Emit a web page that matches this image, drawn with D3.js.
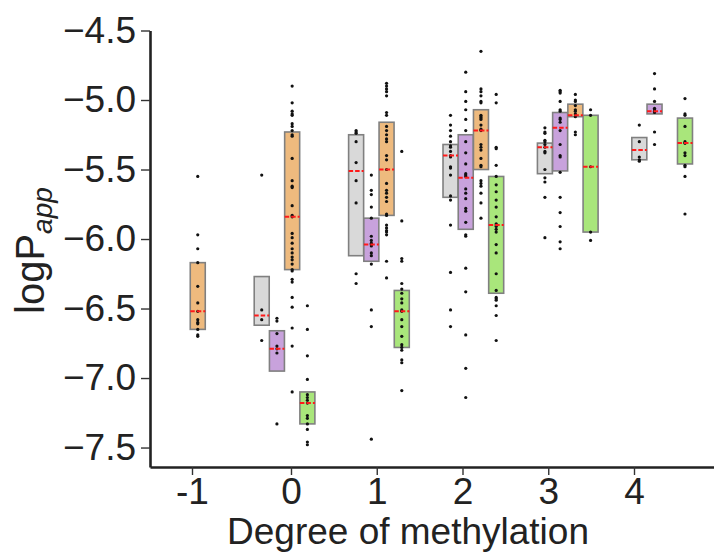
<!DOCTYPE html>
<html>
<head>
<meta charset="utf-8">
<script src="https://cdn.jsdelivr.net/npm/d3@7"></script>
<style>
  html, body { margin: 0; padding: 0; background: #fff; }
  svg { display: block; font-family: "Liberation Sans", Arial, sans-serif; }
</style>
</head>
<body>
<svg id="chart" width="714" height="555"></svg>
<script>
// ---------- data ----------
const categories = [-1, 0, 1, 2, 3, 4];
const seriesKeys = ["grey", "purple", "orange", "green"];
const seriesColors = ["#d9d9d9", "#c8a2dc", "#eeba7e", "#a9e67b"];
const yTicks = [-4.5, -5.0, -5.5, -6.0, -6.5, -7.0, -7.5];
const xTicks = [-1, 0, 1, 2, 3, 4];

// box statistics per category: [q1, median, q3] (null = no box)
const greyBoxes = [null, [-6.62, -6.55, -6.27], [-6.12, -5.51, -5.25], [-5.70, -5.40, -5.32], [-5.53, -5.34, -5.31], [-5.43, -5.36, -5.27]];
const purpleBoxes = [null, [-6.95, -6.79, -6.66], [-6.16, -6.04, -5.85], [-5.93, -5.56, -5.25], [-5.51, -5.20, -5.09], [-5.10, -5.08, -5.03]];
const orangeBoxes = [[-6.65, -6.52, -6.17], [-6.22, -5.84, -5.23], [-5.83, -5.50, -5.16], [-5.50, -5.22, -5.07], [-5.12, -5.11, -5.03], null];
const greenBoxes = [null, [-7.33, -7.18, -7.10], [-6.78, -6.52, -6.37], [-6.39, -5.90, -5.55], [-5.95, -5.48, -5.11], [-5.46, -5.31, -5.13]];

// individual measurements per category
const greyPoints = [
  [],
  [-5.54, -6.51, -6.58, -6.73],
  [-5.22, -5.23, -5.24, -5.30, -5.45, -5.58, -5.74, -6.25, -6.32],
  [-5.11, -5.18, -5.22, -5.26, -5.30, -5.33, -5.34, -5.37, -5.40, -5.41, -5.48, -5.49, -5.54, -5.69, -5.72, -5.90, -6.24, -6.51, -6.63],
  [-5.20, -5.23, -5.24, -5.29, -5.30, -5.32, -5.34, -5.37, -5.38, -5.50, -5.56, -5.59, -5.70, -5.99],
  [-5.18, -5.30, -5.41, -5.43, -5.44]
];
const purplePoints = [
  [],
  [-6.57, -6.59, -6.68, -6.77, -6.79, -6.82, -7.33],
  [-5.54, -5.65, -5.68, -5.77, -5.85, -5.98, -6.01, -6.03, -6.04, -6.05, -6.10, -6.12, -6.18, -6.51, -6.63, -7.44],
  [-4.80, -4.94, -5.01, -5.07, -5.14, -5.22, -5.30, -5.38, -5.46, -5.53, -5.54, -5.55, -5.64, -5.67, -5.71, -5.78, -5.80, -5.88, -5.97, -5.98, -6.21, -6.38, -6.69, -6.93, -7.14],
  [-4.93, -4.94, -4.95, -5.01, -5.07, -5.08, -5.13, -5.14, -5.16, -5.22, -5.32, -5.40, -5.41, -5.52, -5.70, -5.81, -5.91, -6.02, -6.07],
  [-4.81, -4.92, -5.01, -5.06, -5.07, -5.08, -5.09, -5.23, -5.32]
];
const orangePoints = [
  [-5.55, -5.97, -6.07, -6.17, -6.34, -6.46, -6.52, -6.58, -6.60, -6.61, -6.65, -6.69, -6.70],
  [-4.90, -5.02, -5.08, -5.10, -5.11, -5.17, -5.19, -5.22, -5.25, -5.26, -5.42, -5.58, -5.62, -5.63, -5.76, -5.83, -5.84, -5.96, -5.99, -6.03, -6.07, -6.10, -6.13, -6.15, -6.18, -6.22, -6.23, -6.29, -6.31, -6.42, -6.49, -6.64, -6.77, -7.10],
  [-4.88, -4.90, -4.92, -4.94, -4.97, -5.09, -5.11, -5.19, -5.22, -5.25, -5.28, -5.30, -5.40, -5.43, -5.50, -5.60, -5.65, -5.67, -5.70, -5.73, -5.82, -5.83, -5.90, -5.92, -5.94, -5.95, -5.97, -6.16, -6.28],
  [-4.65, -4.92, -4.94, -4.97, -5.01, -5.02, -5.11, -5.12, -5.13, -5.14, -5.18, -5.21, -5.22, -5.32, -5.34, -5.36, -5.42, -5.47, -5.48, -5.58, -5.60, -5.62, -5.67, -5.74, -5.85],
  [-4.96, -5.00, -5.01, -5.04, -5.07, -5.08, -5.10, -5.12, -5.23, -5.25],
  []
];
const greenPoints = [
  [],
  [-6.48, -6.65, -6.84, -7.01, -7.12, -7.14, -7.16, -7.18, -7.27, -7.29, -7.33, -7.37, -7.46, -7.48],
  [-5.37, -5.87, -6.14, -6.16, -6.32, -6.36, -6.39, -6.43, -6.46, -6.51, -6.52, -6.58, -6.63, -6.70, -6.76, -6.78, -6.80, -6.87, -6.89, -7.09],
  [-4.96, -5.02, -5.34, -5.35, -5.47, -5.55, -5.61, -5.66, -5.72, -5.77, -5.84, -5.89, -5.90, -5.91, -5.93, -5.95, -6.04, -6.10, -6.25, -6.37, -6.42, -6.43, -6.44, -6.48, -6.55, -6.73],
  [-5.07, -5.11, -5.48, -5.95, -6.01],
  [-4.99, -5.10, -5.11, -5.19, -5.30, -5.31, -5.31, -5.38, -5.40, -5.47, -5.48, -5.55, -5.82]
];

const boxSets = [greyBoxes, purpleBoxes, orangeBoxes, greenBoxes];
const pointSets = [greyPoints, purplePoints, orangePoints, greenPoints];

// ---------- layout ----------
const svg = d3.select("#chart");
// axis (tick) scale, piecewise to follow the original tick placement
const x = d3.scaleLinear().domain([-1.416, -1, 0, 4, 4.933]).range([150, 192, 291, 634, 714]);
// group positions of the box clusters (the original chart's clusters drift relative to its ticks)
const xGroup = d3.scaleLinear().domain([-1, 4]).range([197.8, 669.8]);
const y = d3.scaleLinear().domain([-7.64, -4.5]).range([467, 30.5]);
const dodge = d3.scaleBand().domain(seriesKeys).range([-38.25, 22.95]).padding(0.02);
const boxW = 15;
const cxOf = (c, key) => xGroup(c) + dodge(key) + dodge.bandwidth() / 2;

const plot = svg.append("g");

seriesKeys.forEach((key, si) => {
  const boxes = boxSets[si];
  const g = plot.append("g").attr("class", "series-" + key);
  categories.forEach((c, ci) => {
    const b = boxes[ci];
    if (!b) return;
    const cx = cxOf(c, key);
    g.append("rect")
      .attr("x", cx - boxW / 2)
      .attr("y", y(b[2]))
      .attr("width", boxW)
      .attr("height", y(b[0]) - y(b[2]))
      .attr("fill", seriesColors[si])
      .attr("stroke", "#808080")
      .attr("stroke-width", 1.6);
  });
});

// points
seriesKeys.forEach((key, si) => {
  const pts = pointSets[si];
  categories.forEach((c, ci) => {
    const cx = cxOf(c, key);
    plot.append("g").selectAll("circle").data(pts[ci]).join("circle")
      .attr("cx", cx)
      .attr("cy", d => y(d))
      .attr("r", 1.6)
      .attr("fill", "#111");
  });
});

// medians
seriesKeys.forEach((key, si) => {
  const boxes = boxSets[si];
  categories.forEach((c, ci) => {
    const b = boxes[ci];
    if (!b) return;
    const cx = cxOf(c, key);
    plot.append("line")
      .attr("x1", cx - boxW / 2).attr("x2", cx + boxW / 2)
      .attr("y1", y(b[1])).attr("y2", y(b[1]))
      .attr("stroke", "#ff1a1a")
      .attr("stroke-width", 2)
      .attr("stroke-dasharray", "4.5,2");
  });
});

// ---------- axes ----------
const yAxis = svg.append("g")
  .attr("transform", "translate(150,0)")
  .call(d3.axisLeft(y).tickValues(yTicks).tickSize(9).tickPadding(5).tickSizeOuter(0)
    .tickFormat(d => "\u2212" + Math.abs(d).toFixed(1)));
const xAxis = svg.append("g")
  .attr("transform", "translate(0,467)")
  .call(d3.axisBottom(x).tickValues(xTicks).tickSize(8).tickPadding(3).tickSizeOuter(0)
    .tickFormat(d => (d < 0 ? "-" : "") + Math.abs(d)));

[yAxis, xAxis].forEach(a => {
  a.select(".domain").attr("stroke", "#222").attr("stroke-width", 2.6);
  a.selectAll(".tick line").attr("stroke", "#333").attr("stroke-width", 1.4);
  a.selectAll(".tick text").attr("fill", "#222").attr("font-size", 37)
    .attr("font-family", "'Liberation Sans', Arial, sans-serif");
});

// titles
svg.append("text")
  .attr("x", 408).attr("y", 544)
  .attr("text-anchor", "middle")
  .attr("font-size", 37)
  .attr("fill", "#222")
  .text("Degree of methylation");

const yl = svg.append("text")
  .attr("transform", "translate(44,314) rotate(-90)")
  .attr("text-anchor", "start")
  .attr("font-size", 40)
  .attr("fill", "#222");
yl.append("tspan").text("logP");
yl.append("tspan").attr("font-size", 28).attr("font-style", "italic").attr("dy", 8).text("app");
</script>
</body>
</html>
